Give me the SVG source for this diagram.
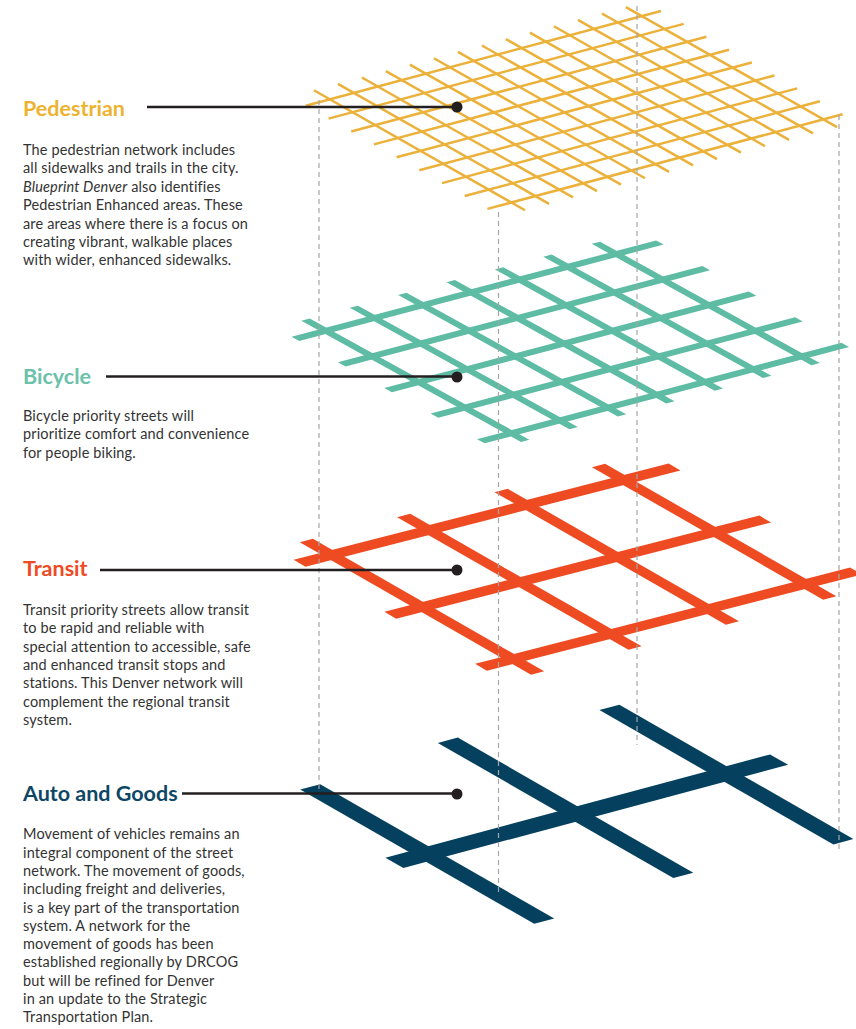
<svg xmlns="http://www.w3.org/2000/svg" width="856" height="1029" viewBox="0 0 856 1029">
<style>
.title{font-family:Lato,"Open Sans",sans-serif;font-weight:700;font-size:21.5px}
.body{font-family:Lato,"Open Sans",sans-serif;font-size:14.5px;letter-spacing:0.15px;fill:#333333}
.ped{stroke:#EBB13A;stroke-width:2.5;fill:none}
.bike{fill:#5EBCA4}
.transit{fill:#EF4B23}
.auto{fill:#05415F}
.leader{stroke:#231F20;stroke-width:2.5;fill:none}
.dot{fill:#231F20}
.dash{stroke:#A6A6A6;stroke-width:1.2;stroke-dasharray:5 4;fill:none}
</style>
<rect width="856" height="1029" fill="#ffffff"/>

<g id="pedestrian">
<text class="title" x="23" y="116" fill="#EDB330">Pedestrian</text>
<text class="body" x="23">
<tspan x="23" y="155">The pedestrian network includes</tspan>
<tspan x="23" y="173.4">all sidewalks and trails in the city.</tspan>
<tspan x="23" y="191.8"><tspan font-style="italic">Blueprint Denver</tspan> also identifies</tspan>
<tspan x="23" y="210.2">Pedestrian Enhanced areas. These</tspan>
<tspan x="23" y="228.6">are areas where there is a focus on</tspan>
<tspan x="23" y="247">creating vibrant, walkable places</tspan>
<tspan x="23" y="265.4">with wider, enhanced sidewalks.</tspan>
</text>
<g transform="matrix(24,-6.4,22.7,12.9,329.8,99.3)">
<path class="ped" vector-effect="non-scaling-stroke" d="M-1 0H13.8M-1 1H13.8M-1 2H13.8M-1 3H13.8M-1 4H13.8M-1 5H13.8M-1 6H13.8M-1 7H13.8M-1 8H13.8"/>
<path class="ped" vector-effect="non-scaling-stroke" d="M0 -0.7V8.6M1 -0.7V8.6M2 -0.7V8.6M3 -0.7V8.6M4 -0.7V8.6M5 -0.7V8.6M6 -0.7V8.6M7 -0.7V8.6M8 -0.7V8.6M9 -0.7V8.6M10 -0.7V8.6M11 -0.7V8.6M12 -0.7V8.6M13 -0.7V8.6"/>
</g>
</g>

<g id="bicycle">
<text class="title" x="23" y="383.5" fill="#6CC1AA">Bicycle</text>
<text class="body">
<tspan x="23" y="421">Bicycle priority streets will</tspan>
<tspan x="23" y="439.3">prioritize comfort and convenience</tspan>
<tspan x="23" y="457.6">for people biking.</tspan>
</text>
<g class="bike" transform="matrix(48.4,-12.8,46.35,25.6,325.9,330.8)">
<rect x="-0.63" y="-0.082" width="7.53" height="0.164"/>
<rect x="-0.63" y="0.918" width="7.53" height="0.164"/>
<rect x="-0.63" y="1.918" width="7.53" height="0.164"/>
<rect x="-0.63" y="2.918" width="7.53" height="0.164"/>
<rect x="-0.63" y="3.918" width="7.53" height="0.164"/>
<rect x="-0.0865" y="-0.44" width="0.173" height="4.74"/>
<rect x="0.9135" y="-0.44" width="0.173" height="4.74"/>
<rect x="1.9135" y="-0.44" width="0.173" height="4.74"/>
<rect x="2.9135" y="-0.44" width="0.173" height="4.74"/>
<rect x="3.9135" y="-0.44" width="0.173" height="4.74"/>
<rect x="4.9135" y="-0.44" width="0.173" height="4.74"/>
<rect x="5.9135" y="-0.44" width="0.173" height="4.74"/>
</g>
</g>

<g id="transit">
<text class="title" x="23" y="576" fill="#EE4A24">Transit</text>
<text class="body">
<tspan x="23" y="615">Transit priority streets allow transit</tspan>
<tspan x="23" y="633.3">to be rapid and reliable with</tspan>
<tspan x="23" y="651.6">special attention to accessible, safe</tspan>
<tspan x="23" y="669.9">and enhanced transit stops and</tspan>
<tspan x="23" y="688.2">stations. This Denver network will</tspan>
<tspan x="23" y="706.5">complement the regional transit</tspan>
<tspan x="23" y="724.8">system.</tspan>
</text>
<g class="transit" transform="matrix(97.4,-25,90.7,52,331.7,555)">
<rect x="-0.33" y="-0.065" width="3.85" height="0.13"/>
<rect x="-0.33" y="0.935" width="3.85" height="0.13"/>
<rect x="-0.33" y="1.935" width="3.85" height="0.13"/>
<rect x="-0.0675" y="-0.28" width="0.135" height="2.55"/>
<rect x="0.9325" y="-0.28" width="0.135" height="2.55"/>
<rect x="1.9325" y="-0.28" width="0.135" height="2.55"/>
<rect x="2.9325" y="-0.28" width="0.135" height="2.55"/>
</g>
</g>

<g id="auto-goods">
<text class="title" x="23" y="801" fill="#0E4766">Auto and Goods</text>
<text class="body">
<tspan x="23" y="839.3">Movement of vehicles remains an</tspan>
<tspan x="23" y="857.6">integral component of the street</tspan>
<tspan x="23" y="875.9">network. The movement of goods,</tspan>
<tspan x="23" y="894.2">including freight and deliveries,</tspan>
<tspan x="23" y="912.5">is a key part of the transportation</tspan>
<tspan x="23" y="930.8">system. A network for the</tspan>
<tspan x="23" y="949.1">movement of goods has been</tspan>
<tspan x="23" y="967.4">established regionally by DRCOG</tspan>
<tspan x="23" y="985.7">but will be refined for Denver</tspan>
<tspan x="23" y="1004">in an update to the Strategic</tspan>
<tspan x="23" y="1022.3">Transportation Plan.</tspan>
</text>
<g class="auto" transform="matrix(149.1,-40,100,57.4,427.2,854)">
<rect x="-0.22" y="-0.09" width="2.58" height="0.18"/>
<rect x="-0.067" y="-1.17" width="0.134" height="2.34"/>
<rect x="0.933" y="-1.285" width="0.134" height="2.355"/>
<rect x="1.933" y="-1.16" width="0.134" height="2.34"/>
</g>
</g>

<g id="connectors">
<line class="dash" x1="319" y1="100" x2="319" y2="792"/>
<line class="dash" x1="498.5" y1="212" x2="498.5" y2="893"/>
<line class="dash" x1="637" y1="6" x2="637" y2="745"/>
<line class="dash" x1="839" y1="115" x2="839" y2="852"/>
<line class="leader" x1="147" y1="107" x2="457" y2="107"/>
<circle class="dot" cx="457" cy="107" r="5.5"/>
<line class="leader" x1="106" y1="376.5" x2="457" y2="376.5"/>
<circle class="dot" cx="457" cy="377" r="5.5"/>
<line class="leader" x1="100" y1="570" x2="457" y2="570"/>
<circle class="dot" cx="457" cy="570" r="5.5"/>
<line class="leader" x1="182" y1="793.5" x2="457" y2="793.5"/>
<circle class="dot" cx="457" cy="794" r="5.5"/>
</g>
</svg>
